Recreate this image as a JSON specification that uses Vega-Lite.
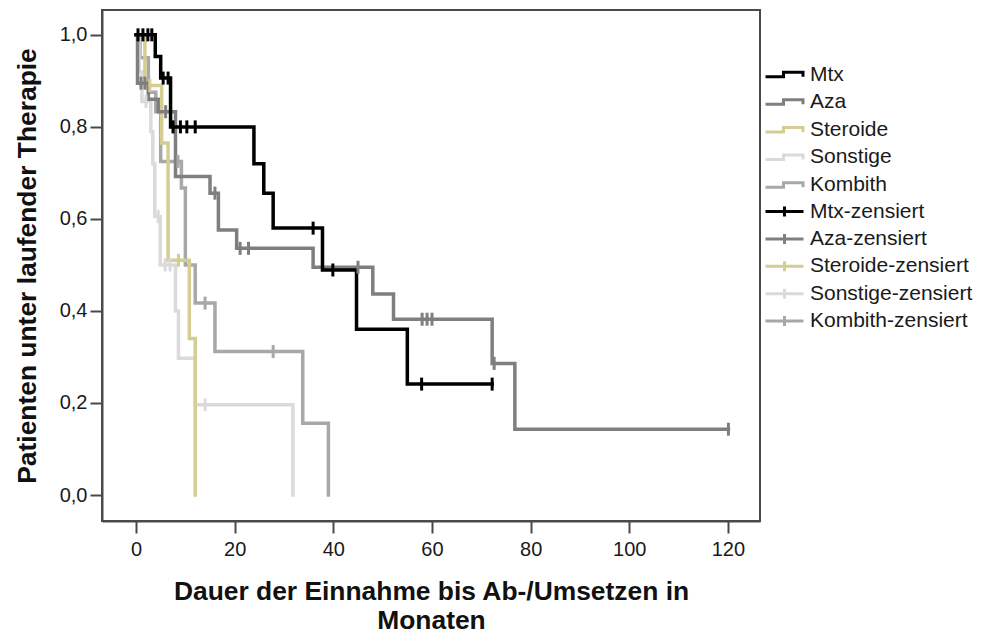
{
  "$schema": "https://vega.github.io/schema/vega-lite/v6.json",
  "width": 658,
  "height": 511,
  "autosize": {"type": "none"},
  "padding": {"left": 102, "top": 10, "right": 227, "bottom": 112},
  "background": "white",
  "config": {
    "view": {"stroke": "#4a4a4a", "strokeWidth": 2},
    "axis": {
      "grid": false,
      "domainColor": "#4a4a4a",
      "domainWidth": 2,
      "tickColor": "#4a4a4a",
      "tickWidth": 2,
      "tickSize": 12,
      "labelFont": "Liberation Sans",
      "labelFontSize": 20,
      "labelColor": "#1a1a1a",
      "titleFont": "Liberation Sans",
      "titleFontSize": 26.4,
      "titleFontWeight": "bold",
      "titleColor": "#111111"
    },
    "legend": {
      "labelFont": "Liberation Sans",
      "labelFontSize": 21,
      "labelColor": "#1a1a1a",
      "labelLimit": 300,
      "padding": 0,
      "rowPadding": 5.6,
      "symbolSize": 100,
      "symbolStrokeWidth": 3,
      "symbolOpacity": 1,
      "symbolFillColor": "transparent",
      "labelOffset": 15
    }
  },
  "datasets": {
    "curves": [
      {"g": "Kombith", "t": 0, "s": 1.0},
      {"g": "Kombith", "t": 0.8, "s": 0.95},
      {"g": "Kombith", "t": 2.5, "s": 0.875},
      {"g": "Kombith", "t": 4.0, "s": 0.833},
      {"g": "Kombith", "t": 5.0, "s": 0.725},
      {"g": "Kombith", "t": 9.2, "s": 0.667},
      {"g": "Kombith", "t": 10.0, "s": 0.5},
      {"g": "Kombith", "t": 12.0, "s": 0.417},
      {"g": "Kombith", "t": 16.0, "s": 0.312},
      {"g": "Kombith", "t": 33.8, "s": 0.156},
      {"g": "Kombith", "t": 39.0, "s": 0.0},
      {"g": "Sonstige", "t": 0, "s": 1.0},
      {"g": "Sonstige", "t": 0.6, "s": 0.92},
      {"g": "Sonstige", "t": 1.2, "s": 0.855},
      {"g": "Sonstige", "t": 3.0, "s": 0.79},
      {"g": "Sonstige", "t": 3.4, "s": 0.72},
      {"g": "Sonstige", "t": 3.8, "s": 0.605},
      {"g": "Sonstige", "t": 4.9, "s": 0.5},
      {"g": "Sonstige", "t": 8.0, "s": 0.4},
      {"g": "Sonstige", "t": 8.6, "s": 0.297},
      {"g": "Sonstige", "t": 12.0, "s": 0.196},
      {"g": "Sonstige", "t": 31.8, "s": 0.0},
      {"g": "Steroide", "t": 0, "s": 1.0},
      {"g": "Steroide", "t": 1.8, "s": 0.89},
      {"g": "Steroide", "t": 5.2, "s": 0.765},
      {"g": "Steroide", "t": 6.5, "s": 0.51},
      {"g": "Steroide", "t": 10.8, "s": 0.34},
      {"g": "Steroide", "t": 12.0, "s": 0.0},
      {"g": "Aza", "t": 0, "s": 1.0},
      {"g": "Aza", "t": 0.3, "s": 0.895},
      {"g": "Aza", "t": 2.5, "s": 0.86},
      {"g": "Aza", "t": 4.5, "s": 0.833},
      {"g": "Aza", "t": 8.0, "s": 0.692},
      {"g": "Aza", "t": 15.0, "s": 0.656},
      {"g": "Aza", "t": 16.7, "s": 0.576},
      {"g": "Aza", "t": 20.4, "s": 0.536},
      {"g": "Aza", "t": 35.9, "s": 0.495},
      {"g": "Aza", "t": 48.0, "s": 0.437},
      {"g": "Aza", "t": 52.2, "s": 0.382},
      {"g": "Aza", "t": 72.2, "s": 0.286},
      {"g": "Aza", "t": 76.8, "s": 0.143},
      {"g": "Aza", "t": 120.1, "s": 0.143},
      {"g": "Mtx", "t": 0, "s": 1.0},
      {"g": "Mtx", "t": 3.9, "s": 0.953},
      {"g": "Mtx", "t": 5.0, "s": 0.906},
      {"g": "Mtx", "t": 7.0, "s": 0.8},
      {"g": "Mtx", "t": 23.9, "s": 0.72},
      {"g": "Mtx", "t": 25.9, "s": 0.656},
      {"g": "Mtx", "t": 27.8, "s": 0.58},
      {"g": "Mtx", "t": 37.8, "s": 0.489},
      {"g": "Mtx", "t": 44.7, "s": 0.36},
      {"g": "Mtx", "t": 55.0, "s": 0.241},
      {"g": "Mtx", "t": 72.2, "s": 0.241}
    ],
    "censored": [
      {"g": "Kombith-zensiert", "t": 8.5, "s": 0.725},
      {"g": "Kombith-zensiert", "t": 14.0, "s": 0.417},
      {"g": "Kombith-zensiert", "t": 27.8, "s": 0.312},
      {"g": "Sonstige-zensiert", "t": 2.0, "s": 0.855},
      {"g": "Sonstige-zensiert", "t": 4.5, "s": 0.605},
      {"g": "Sonstige-zensiert", "t": 5.9, "s": 0.5},
      {"g": "Sonstige-zensiert", "t": 6.9, "s": 0.5},
      {"g": "Sonstige-zensiert", "t": 14.0, "s": 0.196},
      {"g": "Steroide-zensiert", "t": 2.8, "s": 0.89},
      {"g": "Steroide-zensiert", "t": 8.6, "s": 0.51},
      {"g": "Aza-zensiert", "t": 1.0, "s": 0.895},
      {"g": "Aza-zensiert", "t": 1.8, "s": 0.895},
      {"g": "Aza-zensiert", "t": 6.0, "s": 0.833},
      {"g": "Aza-zensiert", "t": 16.0, "s": 0.656},
      {"g": "Aza-zensiert", "t": 21.1, "s": 0.536},
      {"g": "Aza-zensiert", "t": 22.8, "s": 0.536},
      {"g": "Aza-zensiert", "t": 45.0, "s": 0.495},
      {"g": "Aza-zensiert", "t": 58.0, "s": 0.382},
      {"g": "Aza-zensiert", "t": 59.0, "s": 0.382},
      {"g": "Aza-zensiert", "t": 60.0, "s": 0.382},
      {"g": "Aza-zensiert", "t": 72.6, "s": 0.286},
      {"g": "Aza-zensiert", "t": 120.1, "s": 0.143},
      {"g": "Mtx-zensiert", "t": 0.4, "s": 1.0},
      {"g": "Mtx-zensiert", "t": 1.4, "s": 1.0},
      {"g": "Mtx-zensiert", "t": 2.4, "s": 1.0},
      {"g": "Mtx-zensiert", "t": 3.2, "s": 1.0},
      {"g": "Mtx-zensiert", "t": 5.5, "s": 0.906},
      {"g": "Mtx-zensiert", "t": 6.5, "s": 0.906},
      {"g": "Mtx-zensiert", "t": 7.5, "s": 0.8},
      {"g": "Mtx-zensiert", "t": 9.0, "s": 0.8},
      {"g": "Mtx-zensiert", "t": 10.3, "s": 0.8},
      {"g": "Mtx-zensiert", "t": 12.0, "s": 0.8},
      {"g": "Mtx-zensiert", "t": 35.9, "s": 0.58},
      {"g": "Mtx-zensiert", "t": 39.9, "s": 0.489},
      {"g": "Mtx-zensiert", "t": 57.9, "s": 0.241},
      {"g": "Mtx-zensiert", "t": 72.2, "s": 0.241}
    ]
  },
  "encoding": {
    "x": {
      "field": "t",
      "type": "quantitative",
      "scale": {"domain": [-6.9, 126.5], "nice": false, "zero": false},
      "axis": {
        "values": [0, 20, 40, 60, 80, 100, 120],
        "title": ["Dauer der Einnahme bis Ab-/Umsetzen in", "Monaten"],
        "labelPadding": 6,
        "titlePadding": 19,
        "titleLineHeight": 29
      }
    },
    "y": {
      "field": "s",
      "type": "quantitative",
      "scale": {"domain": [-0.0565, 1.054], "nice": false, "zero": false},
      "axis": {
        "values": [0, 0.2, 0.4, 0.6, 0.8, 1],
        "labelExpr": "replace(format(datum.value, '.1f'), '.', ',')",
        "title": "Patienten unter laufender Therapie",
        "labelPadding": 3,
        "titlePadding": 18
      }
    }
  },
  "layer": [
    {
      "data": {"name": "curves"},
      "mark": {"type": "line", "interpolate": "step-after", "strokeWidth": 3.5, "strokeJoin": "miter", "strokeCap": "square"},
      "encoding": {
        "color": {
          "field": "g",
          "type": "nominal",
          "scale": {
            "domain": ["Mtx", "Aza", "Steroide", "Sonstige", "Kombith"],
            "range": ["#000000", "#7f7f7f", "#d6cd92", "#dadada", "#a8a8a8"]
          },
          "legend": {
            "title": null,
            "orient": "none",
            "legendX": 672,
            "legendY": 54,
            "symbolType": "M-3.8,0.45H-0.2V-0.45H3.7V0.45"
          }
        }
      }
    },
    {
      "data": {"name": "censored"},
      "mark": {"type": "point", "shape": "M0,-1V1", "filled": false, "size": 169, "strokeWidth": 3, "opacity": 1},
      "encoding": {
        "color": {
          "field": "g",
          "type": "nominal",
          "scale": {
            "domain": ["Mtx-zensiert", "Aza-zensiert", "Steroide-zensiert", "Sonstige-zensiert", "Kombith-zensiert"],
            "range": ["#000000", "#7f7f7f", "#d6cd92", "#dadada", "#a8a8a8"]
          },
          "legend": {
            "title": null,
            "orient": "none",
            "legendX": 672,
            "legendY": 191,
            "rowPadding": 4.4,
            "symbolType": "M-3.8,0H3.8M0,-1V1"
          }
        }
      }
    }
  ],
  "resolve": {"scale": {"color": "independent"}}
}
